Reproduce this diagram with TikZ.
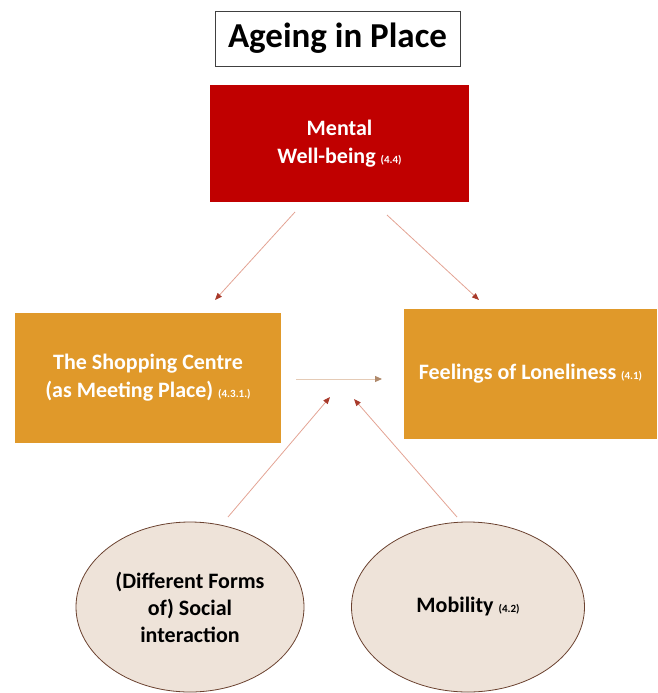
\documentclass[tikz,border=0pt]{standalone}
\usepackage{fontspec}
\setmainfont{Carlito}
\usetikzlibrary{arrows.meta,shapes.geometric}
\definecolor{boxred}{HTML}{C00000}
\definecolor{boxorange}{HTML}{E0992A}
\definecolor{ovalfill}{HTML}{EEE3D9}
\definecolor{ovaledge}{HTML}{6B4230}
\definecolor{linkline}{HTML}{E3A394}
\definecolor{linktip}{HTML}{A8392A}
\definecolor{sideline}{HTML}{E5CBB6}
\definecolor{sidetip}{HTML}{B08A6C}
\tikzset{
  titlebox/.style={draw=black!75, line width=0.9pt, fill=white, minimum width=245pt, minimum height=55pt, inner sep=0pt},
  redbox/.style={fill=boxred, minimum width=259pt, minimum height=117pt, inner sep=0pt, text=white, font=\bfseries\fontsize{22}{28}\selectfont, align=center},
  orangebox/.style={fill=boxorange, inner sep=0pt, text=white, font=\bfseries\fontsize{22}{28}\selectfont, align=center},
  oval/.style={ellipse, draw=ovaledge, line width=0.8pt, fill=ovalfill, inner sep=0pt, font=\bfseries\fontsize{22}{27}\selectfont, align=center},
  link/.style={draw=linkline, line width=0.8pt, -{Triangle[length=7pt,width=5.5pt,color=linktip]}},
  sidelink/.style={draw=sideline, line width=0.9pt, -{Triangle[length=7pt,width=6pt,color=sidetip]}}
}
\newcommand{\secref}[1]{{\fontsize{11}{12}\selectfont(#1)}}
\begin{document}
\begin{tikzpicture}[x=1pt,y=-1pt]
  \useasboundingbox (0,0) rectangle (657,693);
  % title
  \node[titlebox] (title) at (337.5,38.5) {\bfseries\fontsize{35}{38}\selectfont Ageing in Place};
  % main boxes
  \node[redbox] (mental) at (339.5,143.5) {Mental\\Well-being \secref{4.4}};
  \node[orangebox, minimum width=266pt, minimum height=130pt] (shop) at (148,378)
    {The Shopping Centre\\(as Meeting Place) \secref{4.3.1.}};
  \node[orangebox, minimum width=253pt, minimum height=130pt] (lonely) at (530.5,374)
    {Feelings of Loneliness \secref{4.1}};
  % ovals
  \node[oval, minimum width=228pt, minimum height=170pt] (social) at (190,607)
    {(Different Forms\\of) Social\\interaction};
  \node[oval, minimum width=233pt, minimum height=170pt] (mobility) at (468,607)
    {Mobility \secref{4.2}};
  % connector end points
  \coordinate (m1) at (295,212);
  \coordinate (m1t) at (215,300);
  \coordinate (m2) at (387,215);
  \coordinate (m2t) at (479,300);
  \coordinate (s0) at (296,379);
  \coordinate (s1) at (382,379);
  \coordinate (a0) at (228,517);
  \coordinate (a1) at (330,397);
  \coordinate (b0) at (457,517);
  \coordinate (b1) at (354,399);
  % connectors
  \draw[link] (m1) -- (m1t);
  \draw[link] (m2) -- (m2t);
  \draw[sidelink] (s0) -- (s1);
  \draw[link] (a0) -- (a1);
  \draw[link] (b0) -- (b1);
\end{tikzpicture}
\end{document}
